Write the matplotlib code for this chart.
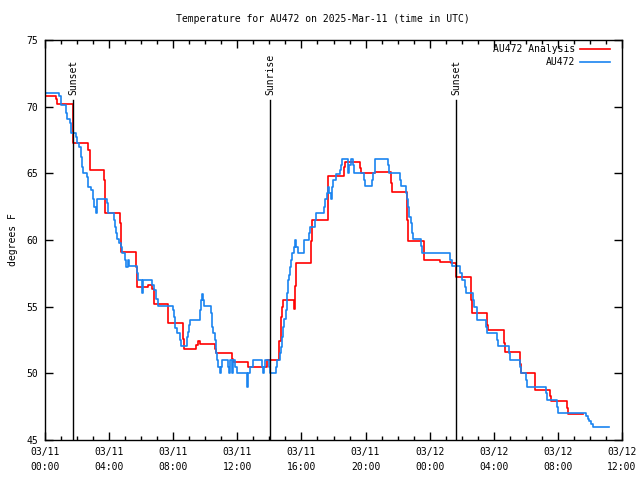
import matplotlib
matplotlib.use('Agg')
import matplotlib.pyplot as plt
from matplotlib.ticker import MultipleLocator

# hours since 03/11 00:00 UTC, step values (deg F)
obs_hours = [0.0, 0.87, 0.98, 1.31, 1.39, 1.56, 1.60, 1.91, 2.01, 2.12, 2.22, 2.28,
             2.34, 2.60, 2.70, 2.85, 2.97, 3.06, 3.16, 3.26, 3.89, 3.95, 4.30, 4.37,
             4.43, 4.51, 4.64, 4.72, 4.78, 4.99, 5.05, 5.17, 5.24, 5.76, 5.82, 6.05,
             6.12, 6.70, 6.80, 6.95, 7.07, 8.00, 8.07, 8.13, 8.21, 8.42, 8.46, 8.84,
             8.90, 8.98, 9.05, 9.67, 9.73, 9.79, 9.88, 9.94, 10.34, 10.40, 10.50, 10.61,
             10.67, 10.71, 10.81, 10.92, 10.97, 11.02, 11.42, 11.46, 11.52, 11.69, 11.75,
             11.85, 11.96, 12.58, 12.68, 12.79, 12.96, 13.52, 13.58, 13.66, 13.72, 13.99,
             14.04, 14.40, 14.45, 14.66, 14.72, 14.81, 14.87, 14.93, 15.01, 15.08, 15.14,
             15.22, 15.28, 15.35, 15.43, 15.51, 15.60, 15.68, 15.80, 16.18, 16.49, 16.55,
             16.84, 16.89, 17.42, 17.47, 17.57, 17.64, 17.72, 17.82, 17.88, 17.99, 18.15,
             18.40, 18.47, 18.55, 18.88, 18.92, 18.96, 19.09, 19.23, 19.30, 19.92, 19.96,
             20.42, 20.48, 20.59, 21.42, 21.46, 22.15, 22.21, 22.50, 22.56, 22.67, 22.73,
             22.81, 22.87, 22.92, 22.98, 23.44, 23.50, 25.26, 25.37, 25.89, 25.99, 26.20,
             26.26, 26.68, 26.76, 26.97, 27.51, 27.59, 28.18, 28.24, 28.95, 29.01, 29.65,
             29.71, 29.99, 30.05, 31.25, 31.32, 31.92, 31.98, 33.73, 33.85, 33.95, 34.05,
             34.17, 35.20]
obs_temps = [71.05, 70.8, 70.1, 69.5, 69.05, 68.75, 68.0, 67.75, 67.25, 67.0, 66.25, 65.5,
             65.0, 64.75, 64.0, 63.75, 63.1, 62.5, 62.0, 63.05, 62.75, 62.0, 61.5, 61.0,
             60.5, 60.05, 59.75, 59.5, 59.0, 58.5, 58.0, 58.5, 58.05, 57.5, 57.0, 56.0,
             57.0, 56.6, 56.25, 55.6, 55.05, 54.75, 54.25, 53.4, 53.0, 52.5, 52.05, 52.75,
             53.1, 53.6, 54.0, 54.75, 55.5, 55.95, 55.5, 55.05, 54.5, 53.5, 53.0, 52.5,
             51.5, 51.0, 50.5, 50.0, 50.5, 51.0, 50.5, 50.0, 51.0, 50.0, 51.0,
             50.5, 50.0, 49.0, 50.0, 50.5, 51.0, 50.5, 50.0, 50.5, 51.0, 50.5,
             50.0, 50.5, 51.0, 51.5, 52.0, 52.75, 53.5, 54.1, 54.75, 56.0, 57.0,
             57.4, 58.0, 58.5, 59.0, 59.5, 60.0, 59.5, 59.0, 60.0, 60.5, 61.0,
             61.5, 62.0, 62.5, 63.05, 63.5, 64.0, 63.5, 63.05, 64.0, 64.5, 64.95,
             65.25, 65.6, 66.05, 65.6, 65.0, 65.6, 66.05, 65.6, 65.0, 64.5, 64.05,
             64.5, 65.0, 66.05, 65.6, 65.0, 64.5, 64.05, 63.5, 63.05, 62.5, 61.75,
             61.25, 60.95, 60.55, 60.05, 59.55, 59.0, 58.5, 58.05, 57.5, 57.0, 56.5,
             56.0, 55.5, 55.0, 54.0, 53.5, 53.0, 52.5, 52.05, 51.5, 51.0, 50.5,
             50.0, 49.5, 48.95, 48.5, 48.0, 47.5, 47.0, 46.8, 46.6, 46.4, 46.2,
             46.0, 46.0]

ana_hours = [0.0, 0.67, 0.75, 1.72, 2.67, 2.78, 3.67, 3.76, 4.70, 4.76, 5.65, 5.74,
             6.40, 6.65, 6.78, 7.65, 7.70, 8.61, 8.66, 9.45, 9.55, 9.68, 10.63, 10.70,
             11.68, 11.75, 12.68, 13.85, 14.63, 14.70, 14.76, 14.85, 15.55, 15.60, 15.68,
             16.62, 16.68, 17.64, 18.63, 18.70, 19.63, 19.70, 20.58, 21.60, 21.67, 22.59,
             22.66, 23.62, 24.62, 25.34, 25.62, 26.60, 26.65, 27.58, 27.65, 28.62, 28.68,
             29.62, 29.68, 30.55, 30.60, 31.52, 31.58, 32.57, 32.63, 33.54]
ana_temps = [70.83, 70.55, 70.2, 67.25, 66.75, 65.25, 64.5, 62.0, 61.25, 59.08, 58.0, 56.5,
             56.6, 56.3, 55.2, 54.5, 53.8, 52.6, 51.8, 52.1, 52.4, 52.2, 51.8, 51.5,
             51.1, 50.83, 50.5, 51.0, 52.4, 54.25, 55.0, 55.5, 54.8, 56.55, 58.25,
             59.9, 61.5, 64.8, 65.5, 65.83, 65.4, 65.0, 65.08, 64.3, 63.58, 61.5,
             59.9, 58.5, 58.38, 58.3, 57.25, 55.5, 54.5, 53.6, 53.25, 52.3, 51.6,
             50.7, 50.0, 49.3, 48.75, 48.3, 47.95, 47.4, 46.95, 46.95]

sun_events = ['Sunset', 'Sunrise', 'Sunset']
sun_hours = [1.75, 14.04, 25.64]

tick_hours = list(range(0, 37, 4))
tick_labels = ['03/11\n00:00', '03/11\n04:00', '03/11\n08:00', '03/11\n12:00',
               '03/11\n16:00', '03/11\n20:00', '03/12\n00:00', '03/12\n04:00',
               '03/12\n08:00', '03/12\n12:00']

plt.rcParams['font.family'] = ['DejaVu Sans Mono']
plt.rcParams['font.size'] = 7

fig = plt.figure(figsize=(6.4, 4.8), dpi=100)
ax = fig.add_axes([45 / 640, 40 / 480, 577 / 640, 400 / 480])

ana_col = '#ff0000'
obs_col = '#1a84f0'

ax.step(ana_hours, ana_temps, where='post', color=ana_col, linewidth=1.2)
ax.step(obs_hours, obs_temps, where='post', color=obs_col, linewidth=1.2)

for name, h in zip(sun_events, sun_hours):
    ax.plot([h, h], [45, 70.5], color='black', linewidth=1)
    ax.text(h + 0.05, 70.9, name, rotation=90, ha='center', va='bottom')

ax.set_xlim(0, 36)
ax.set_ylim(45, 75)
ax.set_xticks(tick_hours)
ax.set_xticklabels(tick_labels, linespacing=1.6)
ax.xaxis.set_minor_locator(MultipleLocator(1))
ax.yaxis.set_major_locator(MultipleLocator(5))
ax.tick_params(which='both', direction='in', top=True, right=True, width=1)
ax.tick_params(which='major', length=6, pad=5)
ax.tick_params(which='minor', length=3)
for s in ax.spines.values():
    s.set_linewidth(1)

ax.set_ylabel('degrees F', labelpad=6)
fig.text(323 / 640, 1 - 19 / 480, 'Temperature for AU472 on 2025-Mar-11 (time in UTC)',
         ha='center', va='center')

# gnuplot style key: right-aligned text, sample line to the right
for i, (lab, col) in enumerate([('AU472 Analysis', ana_col), ('AU472', obs_col)]):
    y = 0.9775 - i * 0.0325
    ax.text(0.9185, y, lab, transform=ax.transAxes, ha='right', va='center')
    ax.plot([0.927, 0.979], [y, y], color=col, linewidth=1.2, transform=ax.transAxes)

fig.savefig('out.png', dpi=100)
